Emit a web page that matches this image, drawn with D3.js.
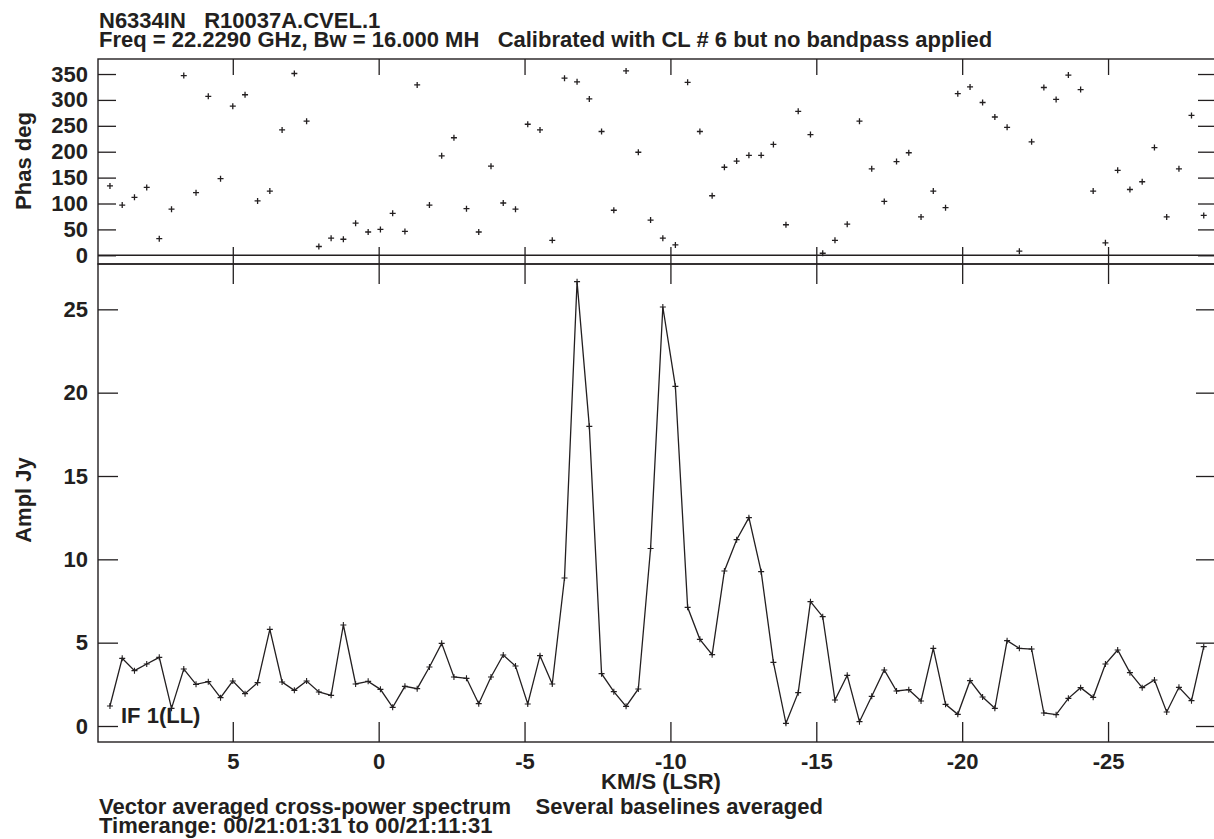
<!DOCTYPE html>
<html>
<head>
<meta charset="utf-8">
<script src="https://cdn.jsdelivr.net/npm/d3@7"></script>
<style>
  html, body { margin: 0; padding: 0; background: #fff; }
  svg { display: block; }
  text { font-family: "Liberation Sans", Arial, Helvetica, sans-serif; font-weight: bold; fill: #231f20; }
</style>
</head>
<body>
<script>
// ---------------- DATA ----------------
const velocities = [
  9.21, 8.79, 8.37, 7.95, 7.52, 7.10, 6.68, 6.26, 5.84, 5.42,
  5.00, 4.58, 4.15, 3.73, 3.31, 2.89, 2.47, 2.05, 1.63, 1.21,
  0.79, 0.36, -0.06, -0.48, -0.90, -1.32, -1.74, -2.16, -2.58, -3.01,
  -3.43, -3.85, -4.27, -4.69, -5.11, -5.53, -5.95, -6.37, -6.80, -7.22,
  -7.64, -8.06, -8.48, -8.90, -9.32, -9.74, -10.17, -10.59, -11.01, -11.43,
  -11.85, -12.27, -12.69, -13.11, -13.53, -13.96, -14.38, -14.80, -15.22, -15.64,
  -16.06, -16.48, -16.90, -17.33, -17.75, -18.17, -18.59, -19.01, -19.43, -19.85,
  -20.27, -20.70, -21.12, -21.54, -21.96, -22.38, -22.80, -23.22, -23.64, -24.06,
  -24.49, -24.91, -25.33, -25.75, -26.17, -26.59, -27.01, -27.43, -27.86, -28.28
];
const phaseDeg = [
  134, 97, 112, 131, 32, 89, 347, 121, 307, 148,
  288, 310, 105, 124, 242, 351, 259, 17, 33, 31,
  62, 45, 50, 81, 46, 329, 97, 192, 227, 90,
  45, 172, 101, 89, 253, 242, 29, 342, 335, 302,
  239, 87, 356, 199, 68, 33, 20, 334, 239, 115,
  170, 182, 193, 193, 214, 59, 278, 233, 4, 29,
  60, 259, 167, 104, 181, 198, 74, 124, 92, 312,
  325, 295, 267, 247, 8, 219, 324, 301, 348, 320,
  124, 24, 164, 127, 142, 208, 74, 167, 270, 77
];
const amplJy = [
  1.20, 4.06, 3.32, 3.72, 4.12, 1.06, 3.42, 2.50, 2.66, 1.70,
  2.70, 1.94, 2.60, 5.80, 2.64, 2.14, 2.70, 2.04, 1.84, 6.06,
  2.52, 2.68, 2.20, 1.12, 2.38, 2.24, 3.54, 4.96, 2.94, 2.86,
  1.34, 2.94, 4.26, 3.60, 1.32, 4.22, 2.52, 8.88, 26.66, 17.98,
  3.14, 2.06, 1.18, 2.22, 10.65, 25.14, 20.38, 7.12, 5.20, 4.28,
  9.30, 11.18, 12.50, 9.26, 3.82, 0.16, 2.00, 7.46, 6.56, 1.56,
  3.04, 0.26, 1.78, 3.36, 2.10, 2.18, 1.50, 4.66, 1.30, 0.70,
  2.72, 1.74, 1.06, 5.12, 4.66, 4.62, 0.78, 0.68, 1.66, 2.30,
  1.72, 3.72, 4.56, 3.20, 2.30, 2.76, 0.84, 2.32, 1.52, 4.76
];
const velocityTicks = [5, 0, -5, -10, -15, -20, -25];
const phaseTicks = [0, 50, 100, 150, 200, 250, 300, 350];
const amplTicks = [0, 5, 10, 15, 20, 25];
const titleLines = [
  "N6334IN   R10037A.CVEL.1",
  "Freq = 22.2290 GHz, Bw = 16.000 MH   Calibrated with CL # 6 but no bandpass applied"
];
const footerLines = [
  "Vector averaged cross-power spectrum    Several baselines averaged",
  "Timerange: 00/21:01:31 to 00/21:11:31"
];
const xLabel = "KM/S (LSR)";
const phaseLabel = "Phas deg";
const amplLabel = "Ampl Jy";
const ifLabel = "IF 1(LL)";

// ---------------- LAYOUT ----------------
const W = 1214, H = 839;
const L = 98, R = 1216;
const phTop = 59, phBot = 264;
const amTop = 264, amBot = 742;
const ink = "#231f20";
const hyphenFmt = d => String(d);   // plain ASCII hyphen-minus, as in the reference

const svg = d3.select("body").append("svg")
  .attr("width", W).attr("height", H)
  .attr("viewBox", `0 0 ${W} ${H}`);
svg.append("rect").attr("width", W).attr("height", H).attr("fill", "#fff");

const x = d3.scaleLinear().domain([9.62, -28.70]).range([L, R]);
const yPh = d3.scaleLinear().domain([-16.8, 379]).range([phBot, phTop]);
const yAm = d3.scaleLinear().domain([-0.96, 27.72]).range([amBot, amTop]);

function styleAxis(g) {
  g.select(".domain").remove();
  g.selectAll(".tick line").attr("stroke", ink).attr("stroke-width", 1.3);
  g.selectAll(".tick text")
    .attr("font-family", '"Liberation Sans", Arial, sans-serif')
    .attr("font-weight", "bold")
    .attr("font-size", 22)
    .attr("fill", ink);
}

// Phase panel axes
svg.append("g").attr("transform", `translate(0,${phTop})`)
  .call(d3.axisTop(x).tickValues(velocityTicks).tickSize(-16).tickFormat(""))
  .call(styleAxis);
svg.append("g").attr("transform", `translate(0,${phBot})`)
  .call(d3.axisBottom(x).tickValues(velocityTicks).tickSize(-17).tickFormat(""))
  .call(styleAxis);
svg.append("g").attr("transform", `translate(${L},0)`)
  .call(d3.axisLeft(yPh).tickValues(phaseTicks).tickSize(-18).tickPadding(10).tickFormat(hyphenFmt))
  .call(styleAxis);
svg.append("g").attr("transform", `translate(${R},0)`)
  .call(d3.axisRight(yPh).tickValues(phaseTicks).tickSize(-18).tickFormat(""))
  .call(styleAxis);

// Amplitude panel axes
svg.append("g").attr("transform", `translate(0,${amTop})`)
  .call(d3.axisTop(x).tickValues(velocityTicks).tickSize(-20).tickFormat(""))
  .call(styleAxis);
svg.append("g").attr("transform", `translate(0,${amBot})`)
  .call(d3.axisBottom(x).tickValues(velocityTicks).tickSize(-20).tickPadding(11).tickFormat(hyphenFmt))
  .call(styleAxis);
svg.append("g").attr("transform", `translate(${L},0)`)
  .call(d3.axisLeft(yAm).tickValues(amplTicks).tickSize(-20).tickPadding(10).tickFormat(hyphenFmt))
  .call(styleAxis);
svg.append("g").attr("transform", `translate(${R},0)`)
  .call(d3.axisRight(yAm).tickValues(amplTicks).tickSize(-20).tickFormat(""))
  .call(styleAxis);

// Frames
const frame = svg.append("g").attr("fill", "none").attr("stroke", ink).attr("stroke-width", 1.4);
frame.append("rect").attr("x", L).attr("y", phTop).attr("width", R - L).attr("height", phBot - phTop);
frame.append("rect").attr("x", L).attr("y", amTop).attr("width", R - L).attr("height", amBot - amTop);
// zero-phase line
frame.append("line").attr("x1", L).attr("x2", R).attr("y1", yPh(0)).attr("y2", yPh(0));

// Phase points (+ markers)
const phData = velocities.map((v, i) => ({ v, p: phaseDeg[i] }));
const plus = 3;
svg.append("g").attr("stroke", ink).attr("stroke-width", 1.3)
  .selectAll("path").data(phData).join("path")
  .attr("d", d => {
    const cx = x(d.v), cy = yPh(d.p);
    return `M${cx - plus},${cy}H${cx + plus}M${cx},${cy - plus}V${cy + plus}`;
  });

// Amplitude line + markers
const amData = velocities.map((v, i) => ({ v, a: amplJy[i] }));
svg.append("path").datum(amData)
  .attr("fill", "none").attr("stroke", ink).attr("stroke-width", 1.3)
  .attr("stroke-linejoin", "miter")
  .attr("d", d3.line().x(d => x(d.v)).y(d => yAm(d.a)));
svg.append("g").attr("stroke", ink).attr("stroke-width", 1.1)
  .selectAll("path").data(amData).join("path")
  .attr("d", d => {
    const cx = x(d.v), cy = yAm(d.a);
    return `M${cx - 3},${cy}H${cx + 3}M${cx},${cy - 3}V${cy + 3}`;
  });

// Texts
const T = svg.append("g").attr("font-size", 22);
titleLines.forEach((t, i) => {
  T.append("text").attr("x", 99).attr("y", 28.3 + i * 18.4).text(t).style("white-space", "pre");
});
footerLines.forEach((t, i) => {
  T.append("text").attr("x", 99).attr("y", 814 + i * 19).text(t).style("white-space", "pre");
});
T.append("text").attr("x", 661).attr("y", 789).attr("text-anchor", "middle").text(xLabel);
T.append("text").attr("transform", "translate(31,161) rotate(-90)").attr("text-anchor", "middle").text(phaseLabel);
T.append("text").attr("transform", "translate(31,500) rotate(-90)").attr("text-anchor", "middle").text(amplLabel);
T.append("text").attr("x", 121).attr("y", 722.5).text(ifLabel);
</script>
</body>
</html>
